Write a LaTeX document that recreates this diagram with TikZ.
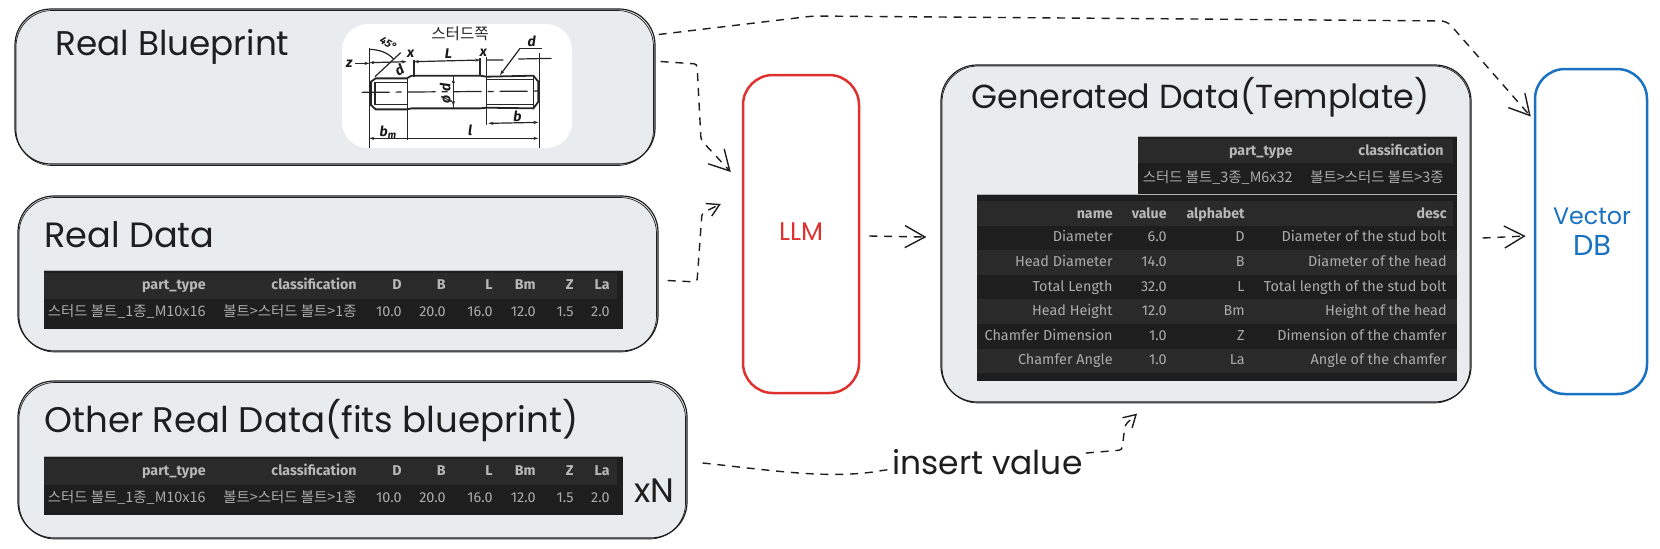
\documentclass[tikz,border=0pt]{standalone}
\usepackage{fontspec}
\usepackage{graphicx}
\usetikzlibrary{arrows.meta,calc}
\setmainfont{Fira Sans}
\newfontfamily\krf{Noto Sans CJK KR}
\newfontfamily\hand{Poppins}
\definecolor{ink}{HTML}{1E1E1E}
\definecolor{panel}{HTML}{E9ECEF}
\definecolor{llmred}{HTML}{E03131}
\definecolor{dbblue}{HTML}{1971C2}
\definecolor{rowa}{HTML}{1E1E1E}
\definecolor{rowb}{HTML}{2A2A2A}
\definecolor{cellhead}{HTML}{B8B8B8}
\definecolor{cellval}{HTML}{ACACAC}
\tikzset{
  panelbox/.style={draw=ink,fill=panel,line width=0.6pt,inner sep=0pt,rounded corners=18pt},
  outlinebox/.style={draw=#1,fill=white,line width=1.25pt,inner sep=0pt,rounded corners=15pt},
  flow/.style={draw=ink,line width=0.7pt,dash pattern=on 4pt off 3.4pt,rounded corners=1.5pt,
    -{Straight Barb[length=10pt,width=11pt,line width=0.7pt]}},
  flowsmall/.style={flow,-{Straight Barb[length=6pt,width=7pt,line width=0.7pt]}},
  tcellbase/.style={anchor=east,inner sep=0pt,text height=5.2pt,text depth=1.4pt},
  headcell/.style={tcellbase,text=cellhead,font=\fontsize{7.1}{8}\selectfont\bfseries},
  valcell/.style={tcellbase,text=cellval,font=\fontsize{7.2}{8}\selectfont},
  krcell/.style={tcellbase,text=cellval,font=\fontsize{7.2}{8}\selectfont\krf},
  title/.style={anchor=west,inner sep=0pt,text=ink,font=\hand},
  bpline/.style={line width=0.6pt,draw=black!85},
  bplabel/.style={inner sep=0pt,text=black!90,font=\fontsize{7}{8}\selectfont\itshape\bfseries},
}
\newcounter{cellno}
\newcommand{\tcell}[4]{\stepcounter{cellno}\node[#1] (cell\thecellno) at (#2,#3) {#4};}
\newcommand{\fitw}[2]{\resizebox{#1}{!}{#2}}
\newcommand{\sketchbox}[6]{% name, style, x1,y1,x2,y2
  \pgfmathsetmacro{\mx}{(#3+#5)/2}\pgfmathsetmacro{\my}{(#4+#6)/2}
  \pgfmathsetmacro{\bw}{(#5-#3)/2}\pgfmathsetmacro{\bh}{(#6-#4)/2}
  \node[#2,minimum width=\bw pt,minimum height=\bh pt] (#1) at (\mx,\my) {};
}
\newcommand{\dataTable}[2]{% y-offset, prefix
  \fill[rowa] (44,#1) rectangle (623,#1+59);
  \fill[rowb] (44,#1+3) rectangle (617,#1+29);
  \draw[white!70!black,line width=0.3pt] (44,#1) -- (623,#1);
  \tcell{headcell}{206}{#1+16}{part\_type}
  \tcell{headcell}{357}{#1+16}{classification}
  \tcell{headcell}{402}{#1+16}{D}
  \tcell{headcell}{446}{#1+16}{B}
  \tcell{headcell}{493}{#1+16}{L}
  \tcell{headcell}{536}{#1+16}{Bm}
  \tcell{headcell}{574}{#1+16}{Z}
  \tcell{headcell}{610}{#1+16}{La}
  \tcell{krcell}{206}{#1+43}{스터드 볼트\_1종\_M10x16}
  \tcell{krcell}{357}{#1+43}{볼트>스터드 볼트>1종}
  \tcell{valcell}{402}{#1+43}{10.0}
  \tcell{valcell}{446}{#1+43}{20.0}
  \tcell{valcell}{493}{#1+43}{16.0}
  \tcell{valcell}{536}{#1+43}{12.0}
  \tcell{valcell}{574}{#1+43}{1.5}
  \tcell{valcell}{610}{#1+43}{2.0}
}
\begin{document}
\begin{tikzpicture}[x=0.5pt,y=-0.5pt]
\useasboundingbox (0,0) rectangle (1660,548);
\fill[white] (0,0) rectangle (1660,548);

% panels
\sketchbox{bp}{panelbox}{15}{9}{655}{164}
\draw[ink,line width=0.35pt,rounded corners=18pt] (16,10.5) rectangle (653.5,165.5);
\sketchbox{rd}{panelbox}{18}{196}{658}{351}
\draw[ink,line width=0.35pt,rounded corners=18pt] (19,197.5) rectangle (656.5,352);
\sketchbox{ot}{panelbox}{18}{381}{687}{538}
\draw[ink,line width=0.35pt,rounded corners=18pt] (19,382.5) rectangle (685.5,539);
\sketchbox{gen}{panelbox}{941}{65}{1471}{402}
\draw[ink,line width=0.35pt,rounded corners=18pt] (942,66) rectangle (1470,403);
\sketchbox{llm}{outlinebox=llmred}{743}{75}{859}{393}
\sketchbox{vdb}{outlinebox=dbblue}{1535}{69}{1647}{394}

% titles
\node[title] (t1) at (55,47) {\fitw{117pt}{Real Blueprint}};
\node[title] (t2) at (44,235) {\fitw{85pt}{Real Data}};
\node[title] (t3) at (44,420) {\fitw{267pt}{Other Real Data(fits blueprint)}};
\node[title] (t4) at (971,97) {\fitw{229pt}{Generated Data(Template)}};
\node[title] (t5) at (634,491) {\fitw{20pt}{xN}};
\node[inner sep=0pt,text=llmred,font=\hand] (t6) at (801,232) {\fitw{22pt}{LLM}};
\node[inner sep=0pt,text=dbblue,font=\hand] (t7) at (1592,216) {\fitw{39pt}{Vector}};
\node[inner sep=0pt,text=dbblue,font=\hand] (t8) at (1592,245) {\fitw{19pt}{DB}};

% blueprint image
\node[fill=white,rounded corners=13pt,inner sep=0pt,minimum width=115pt,minimum height=62pt] (bpimg) at (457,86) {};
\begin{scope}[shift={(310,10)},x=0.1667pt,y=-0.1667pt]
  \node[inner sep=0pt,text=black!85,font=\fontsize{7.8}{9}\selectfont\krf] (bpt) at (450,72) {스터드쪽};
  \draw[bpline,line width=0.9pt] (183,215) -- (197,205) -- (290,205) -- (305,197) -- (510,197) -- (530,200) -- (670,197) -- (685,215) -- (685,275) -- (670,295) -- (530,293) -- (510,295) -- (305,295) -- (290,298) -- (197,298) -- (183,285) -- cycle;
  \draw[bpline] (195,218) -- (290,218) (195,283) -- (290,283) (530,208) -- (670,208) (530,283) -- (670,283);
  \draw[bpline] (195,215) -- (195,285) (292,205) -- (292,390) (430,197) -- (430,295) (530,140) -- (530,345) (670,197) -- (670,295);
  \draw[bpline,dash pattern=on 14pt off 3pt on 3pt off 3pt] (155,247) -- (705,243);
  \draw[bpline] (178,115) -- (178,415) (688,130) -- (688,415) (312,150) -- (312,200) (510,145) -- (510,195);
  \draw[bpline,-{Stealth[length=2.5pt,width=1.6pt]}] (135,160) -- (178,160);
  \draw[bpline,{Stealth[length=2.5pt,width=1.6pt]}-{Stealth[length=2.5pt,width=1.6pt]}] (178,158) -- (290,155);
  \draw[bpline,{Stealth[length=2.5pt,width=1.6pt]}-{Stealth[length=2.5pt,width=1.6pt]}] (312,155) -- (510,150);
  \draw[bpline] (530,150) -- (580,150) (625,147) -- (725,145);
  \draw[bpline,{Stealth[length=2.5pt,width=1.6pt]}-{Stealth[length=2.5pt,width=1.6pt]}] (178,385) -- (685,385);
  \draw[bpline,{Stealth[length=2.5pt,width=1.6pt]}-{Stealth[length=2.5pt,width=1.6pt]}] (535,340) -- (685,337);
  \draw[bpline] (195,200) -- (272,128);
  \draw[bpline] (178,118) .. controls (205,118) and (235,128) .. (250,147);
  \draw[bpline,-{Stealth[length=2.5pt,width=1.6pt]}] (630,115) -- (570,195);
  \draw[bpline] (630,115) -- (695,115);
  \draw[bpline,{Stealth[length=2.5pt,width=1.6pt]}-{Stealth[length=2.5pt,width=1.6pt]}] (430,205) -- (430,288);
  \node[bplabel] (b1) at (118,160) {z};
  \node[bplabel] (b2) at (302,132) {x};
  \node[bplabel] (b3) at (415,132) {L};
  \node[bplabel] (b4) at (520,128) {x};
  \node[bplabel] (b5) at (665,93) {d};
  \node[bplabel,rotate=30] (b6) at (268,180) {d};
  \node[bplabel] (b7) at (235,365) {b\textsubscript{m}};
  \node[bplabel] (b8) at (480,362) {l};
  \node[bplabel] (b9) at (622,318) {b};
  \node[bplabel,rotate=90] (b10) at (408,250) {ø d};
  \node[bplabel,rotate=-30,font=\fontsize{5.5}{6}\selectfont\itshape\bfseries] (b11) at (235,100) {45°};
\end{scope}

% tables
\dataTable{270}{a}
\dataTable{456}{b}
\fill[rowa] (1138,136) rectangle (1457,194);
\fill[rowb] (1138,139) rectangle (1453,163);
\tcell{headcell}{1293}{152}{part\_type}
\tcell{headcell}{1444}{152}{classification}
\tcell{krcell}{1293}{179}{스터드 볼트\_3종\_M6x32}
\tcell{krcell}{1444}{179}{볼트>스터드 볼트>3종}
\fill[rowa] (977,195) rectangle (1457,381);
\fill[rowb] (977,201) rectangle (1453,226);
\draw[white!70!black,line width=0.3pt] (977,194.5) -- (1457,194.5);
\draw[white!70!black,line width=0.3pt] (1138,136) -- (1457,136);
\foreach \ya/\yb in {250/275,299/324,349/373}{\fill[rowb] (977,\ya) rectangle (1457,\yb);}
\tcell{headcell}{1113}{215}{name}
\tcell{headcell}{1167}{215}{value}
\tcell{headcell}{1245}{215}{alphabet}
\tcell{headcell}{1447}{215}{desc}
\foreach \yy/\na/\nb/\nc/\nd in {
  238/Diameter/6.0/D/Diameter of the stud bolt,
  263/Head Diameter/14.0/B/Diameter of the head,
  288/Total Length/32.0/L/Total length of the stud bolt,
  312/Head Height/12.0/Bm/Height of the head,
  337/Chamfer Dimension/1.0/Z/Dimension of the chamfer,
  361/Chamfer Angle/1.0/La/Angle of the chamfer}{
  \tcell{valcell}{1113}{\yy}{\na}
  \tcell{valcell}{1167}{\yy}{\nb}
  \tcell{valcell}{1245}{\yy}{\nc}
  \tcell{valcell}{1447}{\yy}{\nd}
}

% connectors
\coordinate (a0) at ([shift={(5,-25)}]bp.east);
\coordinate (a1) at (697,64);
\coordinate (a2) at (701,140);
\coordinate (a3) at ([shift={(-11,-62)}]llm.west);
\draw[flow] (a0) -- (a1) -- (a2) -- (a3);

\coordinate (b0) at ([shift={(9,7)}]rd.east);
\coordinate (b1) at (697,282);
\coordinate (b2) at (702,213);
\coordinate (b3) at ([shift={(-21,-30)}]llm.west);
\draw[flowsmall] (b0) -- (b1) -- (b2) -- (b3);

\coordinate (c0) at ([shift={(3,-52)}]bp.east);
\coordinate (c1) at (813,16);
\coordinate (c2) at (1447,21);
\coordinate (c3) at ([shift={(-3,-115)}]vdb.west);
\draw[flow,rounded corners=3pt] (c0) -- (c1) -- (c2) -- (c3);

\coordinate (d0) at ([shift={(9,2)}]llm.east);
\coordinate (d1) at ([shift={(-14,3.5)}]gen.west);
\draw[flow] (d0) -- (d1);

\coordinate (e0) at ([shift={(11,4.5)}]gen.east);
\coordinate (e1) at ([shift={(-8,4.5)}]vdb.west);
\draw[flow] (e0) -- (e1);

\coordinate (f0) at ([shift={(15,3.5)}]ot.east);
\coordinate (f1) at (885,470);
\coordinate (f2) at (1122,450);
\coordinate (f3) at (1125,425);
\coordinate (f4) at ([shift={(-69,11)}]gen.south);
\draw[flowsmall] (f0) .. controls (770,470) and (830,480) .. (f1) -- (f2) -- (f3) -- (f4);
\node[fill=white,inner sep=1pt,anchor=west,text=ink,font=\hand] (lbl) at (890,462) {\fitw{95pt}{insert value}};
\end{tikzpicture}
\end{document}
